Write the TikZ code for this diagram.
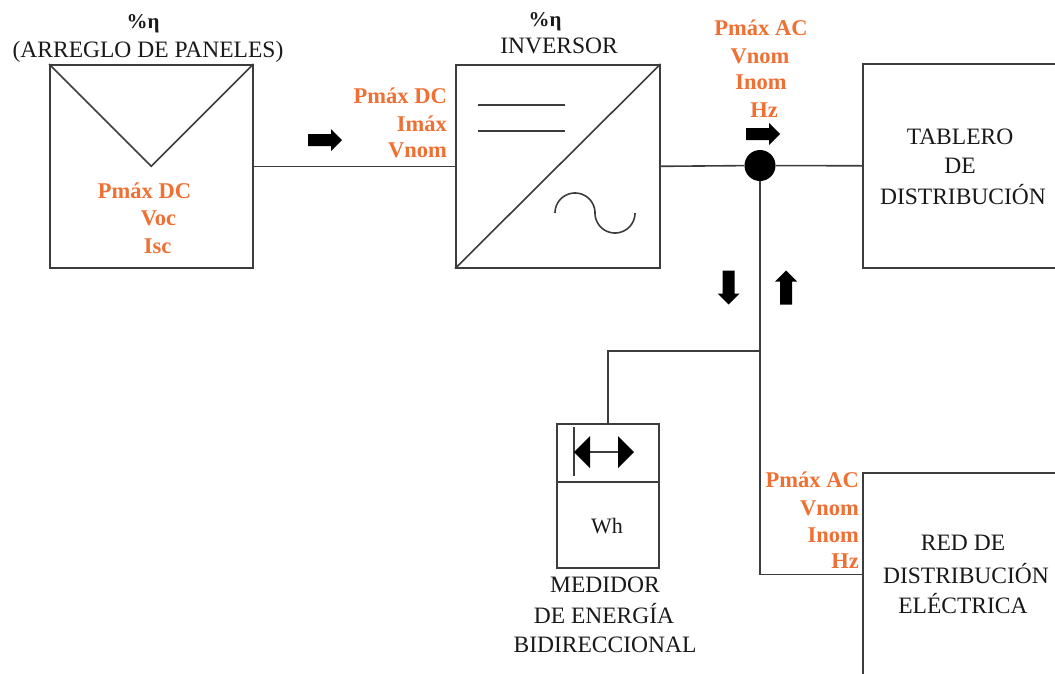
\documentclass[tikz,border=0pt]{standalone}
\usepackage{fontspec}
\setmainfont{Liberation Serif}
\usetikzlibrary{calc}
\definecolor{lineclr}{RGB}{60,60,60}
\definecolor{orng}{RGB}{240,112,52}
\tikzset{
  wire/.style={line width=1.6pt, draw=lineclr},
  box/.style={draw=lineclr, line width=1.6pt, inner sep=0pt, anchor=north west},
  olab/.style={text=orng, font=\fontsize{22.5}{27}\selectfont\bfseries, inner sep=0pt},
  blab/.style={text=black!90, font=\fontsize{23.5}{30}\selectfont, inner sep=0pt},
  etalab/.style={text=black!90, font=\fontsize{21}{25}\selectfont\bfseries, inner sep=0pt},
  blockarrow/.pic={\fill[black] (-17,-6) -- (6,-6) -- (6,-11) -- (17,0) -- (6,11) -- (6,6) -- (-17,6) -- cycle;}
}
\begin{document}
\begin{tikzpicture}[x=1pt,y=-1pt]
\clip (0,0) rectangle (1055,673);
\fill[white] (0,0) rectangle (1055,673);

% boxes
\node[box, minimum width=203pt, minimum height=203pt] (panel) at (49,64) {};
\node[box, minimum width=204pt, minimum height=203pt] (inv) at (455,64) {};
\node[box, minimum width=203pt, minimum height=204pt] (tab) at (862,63) {};
\node[box, minimum width=203pt, minimum height=203pt] (red) at (862,472) {};
\node[box, minimum width=102pt, minimum height=144pt] (meter) at (556,423) {};

% panel symbol
\draw[wire] (panel.north west) -- (panel.center) -- (panel.north east);
% inverter symbol
\draw[wire] (inv.south west) -- (inv.north east);
\draw[wire] (478,105) -- (565,105);
\draw[wire] (478,131) -- (565,131);
\draw[wire] plot[domain=0:1, samples=40, smooth] ({575-20*cos(180*\x)}, {213-20*sin(180*\x)});
\draw[wire] plot[domain=0:1, samples=40, smooth] ({615-20*cos(180*\x)}, {213+20*sin(180*\x)});
% meter symbol
\draw[wire] ([yshift=-59pt]meter.north west) -- ([yshift=-59pt]meter.north east);
\draw[wire] (574,427) -- (574,476);
\draw[wire] (588,452) -- (620,452);
\fill[black] (574,452) -- (590,436) -- (590,468) -- cycle;
\fill[black] (634,452) -- (618,436) -- (618,468) -- cycle;

% junction
\node[circle, fill=black, minimum size=31pt, inner sep=0pt] (junc) at (760,165.5) {};
\coordinate (br) at (760,351);

% connectors
\draw[wire] (panel.east) -- (inv.west);
\draw[wire] (inv.east) -- (junc) -- (tab.west);
\draw[wire] (junc) |- (red.west);
\draw[wire] (br) -| (meter.north);

% block arrows
\pic at (325,140) {blockarrow};
\pic at (763,134) {blockarrow};
\pic[rotate=-90] at (728.5,287.5) {blockarrow};
\pic[rotate=90] at (786,287.5) {blockarrow};

% black labels
\node[etalab, anchor=base] (eta1) at (143,28) {\%η};
\node[blab, anchor=base] (arr) at (148,57) {(ARREGLO DE PANELES)};
\node[etalab, anchor=base] (eta2) at (545,26) {\%η};
\node[blab, anchor=base] (invl) at (559,53) {INVERSOR};
\node[blab, anchor=base] (t1) at (960,144) {TABLERO};
\node[blab, anchor=base] (t2) at (960,173) {DE};
\node[blab, anchor=base] (t3) at (963,204) {DISTRIBUCIÓN};
\node[blab, anchor=base] (r1) at (963,550) {RED DE};
\node[blab, anchor=base] (r2) at (966,583) {DISTRIBUCIÓN};
\node[blab, anchor=base] (r3) at (963,613) {ELÉCTRICA};
\node[blab, anchor=base, font=\fontsize{22}{26}\selectfont] (wh) at (607,533) {Wh};
\node[blab, anchor=base] (m1) at (605,592) {MEDIDOR};
\node[blab, anchor=base] (m2) at (604,623) {DE ENERGÍA};
\node[blab, anchor=base] (m3) at (605,652) {BIDIRECCIONAL};

% orange labels
\node[olab, anchor=base] (p1) at (144.5,198) {Pmáx DC};
\node[olab, anchor=base] (p2) at (158.5,225) {Voc};
\node[olab, anchor=base] (p3) at (157.5,253) {Isc};
\node[olab, anchor=base east] (i1) at (447,103) {Pmáx DC};
\node[olab, anchor=base east] (i2) at (447,131) {Imáx};
\node[olab, anchor=base east] (i3) at (447,157) {Vnom};
\node[olab, anchor=base] (a1) at (761,35) {Pmáx AC};
\node[olab, anchor=base] (a2) at (760,63) {Vnom};
\node[olab, anchor=base] (a3) at (761,89) {Inom};
\node[olab, anchor=base] (a4) at (764,117) {Hz};
\node[olab, anchor=base east] (b1) at (859,487) {Pmáx AC};
\node[olab, anchor=base east] (b2) at (859,515) {Vnom};
\node[olab, anchor=base east] (b3) at (859,542) {Inom};
\node[olab, anchor=base east] (b4) at (859,568) {Hz};
\end{tikzpicture}
\end{document}
